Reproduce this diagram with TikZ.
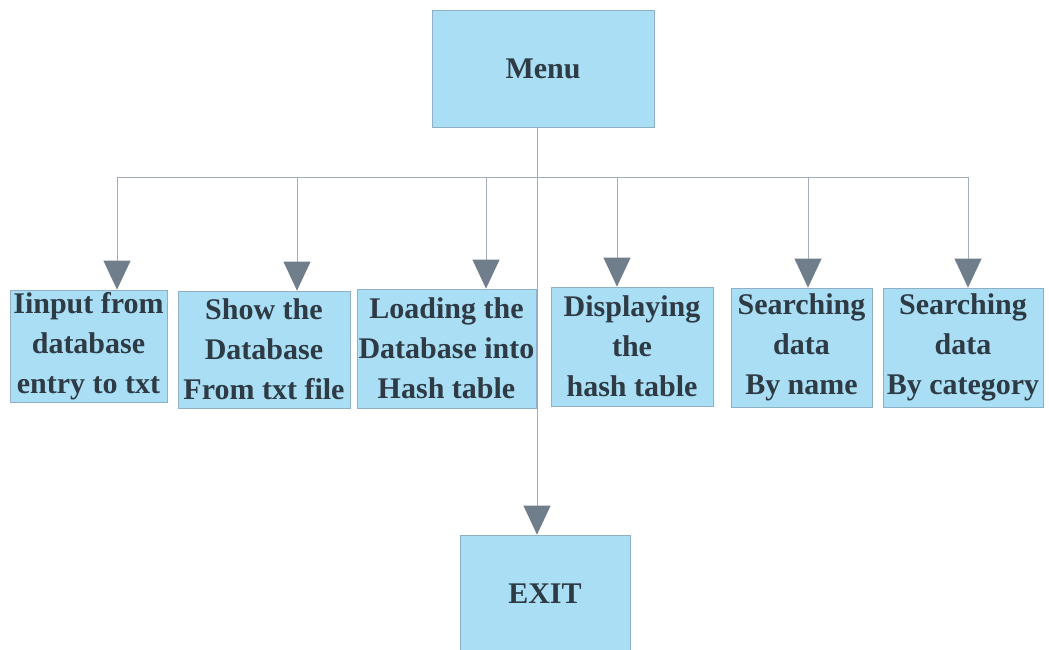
\documentclass[tikz,border=0pt]{standalone}
\usepackage{fontspec}
\setmainfont{Liberation Serif}
\usetikzlibrary{arrows.meta}
\definecolor{boxfill}{HTML}{A9DEF5}
\definecolor{boxline}{HTML}{8FAFC4}
\definecolor{txt}{HTML}{2E3B45}
\definecolor{wire}{HTML}{A3ADB8}
\definecolor{tipc}{HTML}{6F7E8A}
\tikzset{
  box/.style={draw=boxline, line width=0.8pt, fill=boxfill, text=txt, align=center,
    inner sep=0pt, font=\fontsize{30}{40}\selectfont\bfseries},
  wireline/.style={draw=wire, line width=1pt},
  arr/.style={wireline, -{Triangle[width=27pt,length=29pt,color=tipc]}, shorten >=0pt}
}
\begin{document}
\begin{tikzpicture}[x=1pt,y=-1pt]
\useasboundingbox (0,0) rectangle (1049,650);
\node[box, minimum width=222pt, minimum height=117pt] (menu) at (543,68.5) {Menu};
\node[box, minimum width=170pt, minimum height=118pt] (exit) at (545,594) {EXIT};
\node[box, minimum width=157pt, minimum height=112pt] (b1) at (88.5,346) {Iinput from\\database\\entry to txt};
\node[box, minimum width=172pt, minimum height=117pt] (b2) at (264,349.5) {Show the\\Database\\From txt file};
\node[box, minimum width=179pt, minimum height=119pt] (b3) at (446.5,348.5) {Loading the\\Database into\\Hash table};
\node[box, minimum width=162pt, minimum height=119pt] (b4) at (632,346.5) {Displaying\\the\\hash table};
\node[box, minimum width=141pt, minimum height=119pt] (b5) at (801.5,347.5) {Searching\\data\\By name};
\node[box, minimum width=160pt, minimum height=119pt] (b6) at (963,347.5) {Searching\\data\\By category};
\coordinate (d1) at (117,177);
\coordinate (d2) at (297,177);
\coordinate (d3) at (486,177);
\coordinate (d4) at (617,177);
\coordinate (d5) at (808,177);
\coordinate (d6) at (968,177);
\coordinate (mtop) at (537,127);
\draw[wireline] (d1) -- (d6);
\draw[arr] (mtop) -- (mtop |- exit.north);
\draw[arr] (d1) -- (d1 |- b1.north);
\draw[arr] (d2) -- (d2 |- b2.north);
\draw[arr] (d3) -- (d3 |- b3.north);
\draw[arr] (d4) -- (d4 |- b4.north);
\draw[arr] (d5) -- (d5 |- b5.north);
\draw[arr] (d6) -- (d6 |- b6.north);
\end{tikzpicture}
\end{document}
